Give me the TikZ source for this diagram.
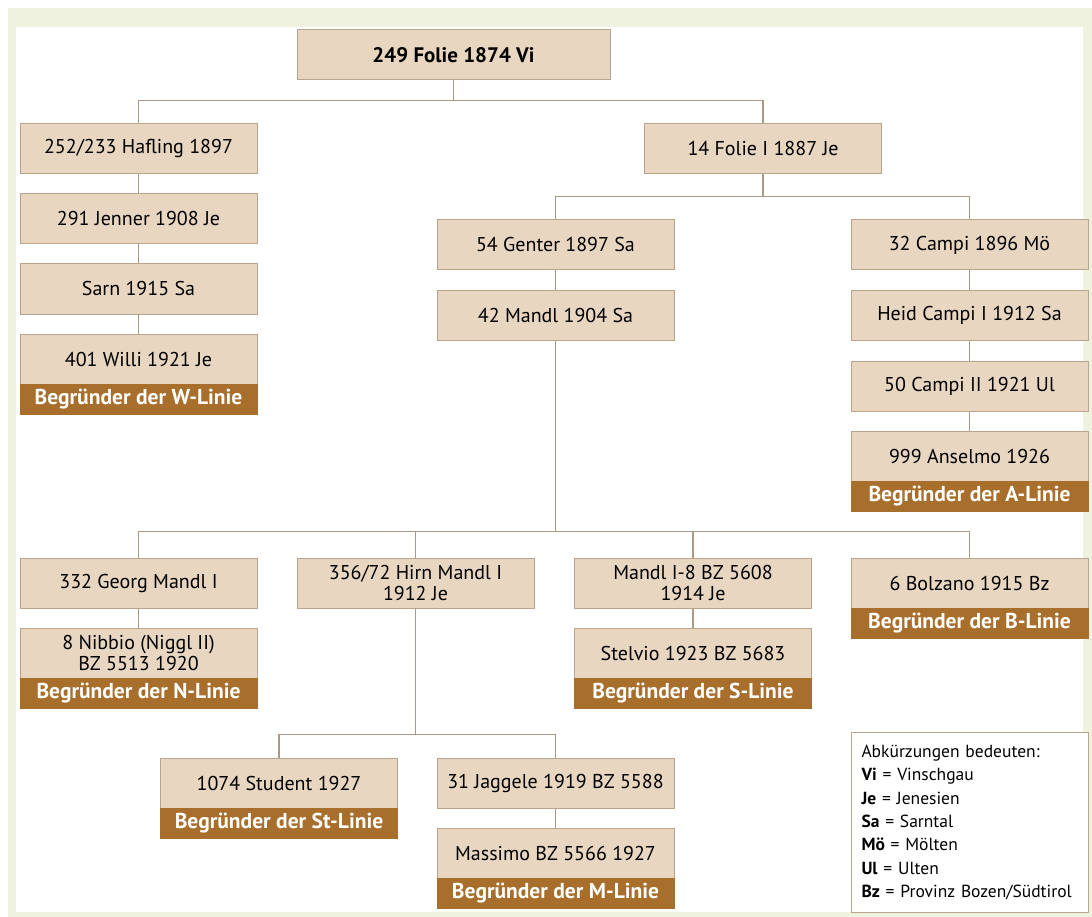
\documentclass[tikz,border=0pt]{standalone}
\usepackage{fontspec}
\setmainfont{PT Sans}
\definecolor{boxfill}{HTML}{E8D6C0}
\definecolor{boxline}{HTML}{B9A58E}
\definecolor{bandbrown}{HTML}{A86F2C}
\definecolor{linegray}{HTML}{A99A88}
\definecolor{framegreen}{HTML}{EEF2DE}
\begin{document}
\begin{tikzpicture}
[x=1pt,y=-1pt,every node/.style={rectangle,draw=boxline,fill=boxfill,line width=1pt,minimum width=237pt,minimum height=50pt,inner sep=2pt,align=center,font=\fontsize{20}{21}\selectfont},
band/.style={draw=bandbrown,fill=bandbrown,text=white,minimum height=30pt,font=\fontsize{21.5}{22}\selectfont\bfseries}]
\useasboundingbox (0,0) rectangle (1092,917);
\fill[framegreen] (8,8) rectangle (1092,917);
\fill[white] (16,27) rectangle (1083,912);
\node (folie) at (453.5,55) [minimum width=313pt,font=\fontsize{21}{22}\selectfont\bfseries] {249 Folie 1874 Vi};
\node (hafling) at (138.5,149) {252/233 Hafling 1897};
\node (jenner) at (138.5,219) {291 Jenner 1908 Je};
\node (sarn) at (138.5,289) {Sarn 1915 Sa};
\node (willi) at (138.5,359) {401 Willi 1921 Je};
\node[band] (williL) at (138.5,399) {Begründer der W-Linie};
\node (folieI) at (763,149) {14 Folie I 1887 Je};
\node (genter) at (555.5,245) {54 Genter 1897 Sa};
\node (mandl) at (555.5,315.5) {42 Mandl 1904 Sa};
\node (campi) at (969.5,245) {32 Campi 1896 Mö};
\node (heid) at (969.5,315.5) {Heid Campi I 1912 Sa};
\node (campiII) at (969.5,386) {50 Campi II 1921 Ul};
\node (anselmo) at (969.5,456) {999 Anselmo 1926};
\node[band] (anselmoL) at (969.5,496) {Begründer der A-Linie};
\node (georg) at (138.5,583) {332 Georg Mandl I};
\node (nibbio) at (138.5,653) {8 Nibbio (Niggl II)\\BZ 5513 1920};
\node[band] (nibbioL) at (138.5,693) {Begründer der N-Linie};
\node (hirn) at (415.5,583) {356/72 Hirn Mandl I\\1912 Je};
\node (mandlacht) at (693,583) {Mandl I-8 BZ 5608\\1914 Je};
\node (stelvio) at (693,653) {Stelvio 1923 BZ 5683};
\node[band] (stelvioL) at (693,693) {Begründer der S-Linie};
\node (bolzano) at (969.5,583) {6 Bolzano 1915 Bz};
\node[band] (bolzanoL) at (969.5,623) {Begründer der B-Linie};
\node (student) at (279,783) {1074 Student 1927};
\node[band] (studentL) at (279,823) {Begründer der St-Linie};
\node (jaggele) at (555.5,783) {31 Jaggele 1919 BZ 5588};
\node (massimo) at (555.5,853) {Massimo BZ 5566 1927};
\node[band] (massimoL) at (555.5,893.5) {Begründer der M-Linie};
\node (legende) at (851,732) [anchor=north west,fill=white,minimum height=180pt,text width=217pt,inner xsep=10pt,align=left,font=\fontsize{17.5}{23.3}\selectfont]
{Abkürzungen bedeuten:\\\textbf{Vi} = Vinschgau\\\textbf{Je} = Jenesien\\\textbf{Sa} = Sarntal\\\textbf{Mö} = Mölten\\\textbf{Ul} = Ulten\\\textbf{Bz} = Provinz Bozen/Südtirol};
\tikzset{conn/.style={draw=linegray,line width=1.2pt}}
\draw[conn] (folie.south) -- ++(0,20) -| (hafling.north);
\draw[conn] (folie.south) -- ++(0,20) -| (folieI.north);
\draw[conn] (hafling) -- (jenner);
\draw[conn] (jenner) -- (sarn);
\draw[conn] (sarn) -- (willi);
\draw[conn] (folieI.south) -- ++(0,22) -| (genter.north);
\draw[conn] (folieI.south) -- ++(0,22) -| (campi.north);
\draw[conn] (genter) -- (mandl);
\draw[conn] (campi) -- (heid);
\draw[conn] (heid) -- (campiII);
\draw[conn] (campiII) -- (anselmo);
\draw[conn] (mandl.south) -- ++(0,190.5) -| (georg.north);
\draw[conn] (mandl.south) -- ++(0,190.5) -| (hirn.north);
\draw[conn] (mandl.south) -- ++(0,190.5) -| (mandlacht.north);
\draw[conn] (mandl.south) -- ++(0,190.5) -| (bolzano.north);
\draw[conn] (georg) -- (nibbio);
\draw[conn] (mandlacht) -- (stelvio);
\draw[conn] (hirn.south) -- ++(0,126) -| (student.north);
\draw[conn] (hirn.south) -- ++(0,126) -| (jaggele.north);
\draw[conn] (jaggele) -- (massimo);
\end{tikzpicture}
\end{document}
